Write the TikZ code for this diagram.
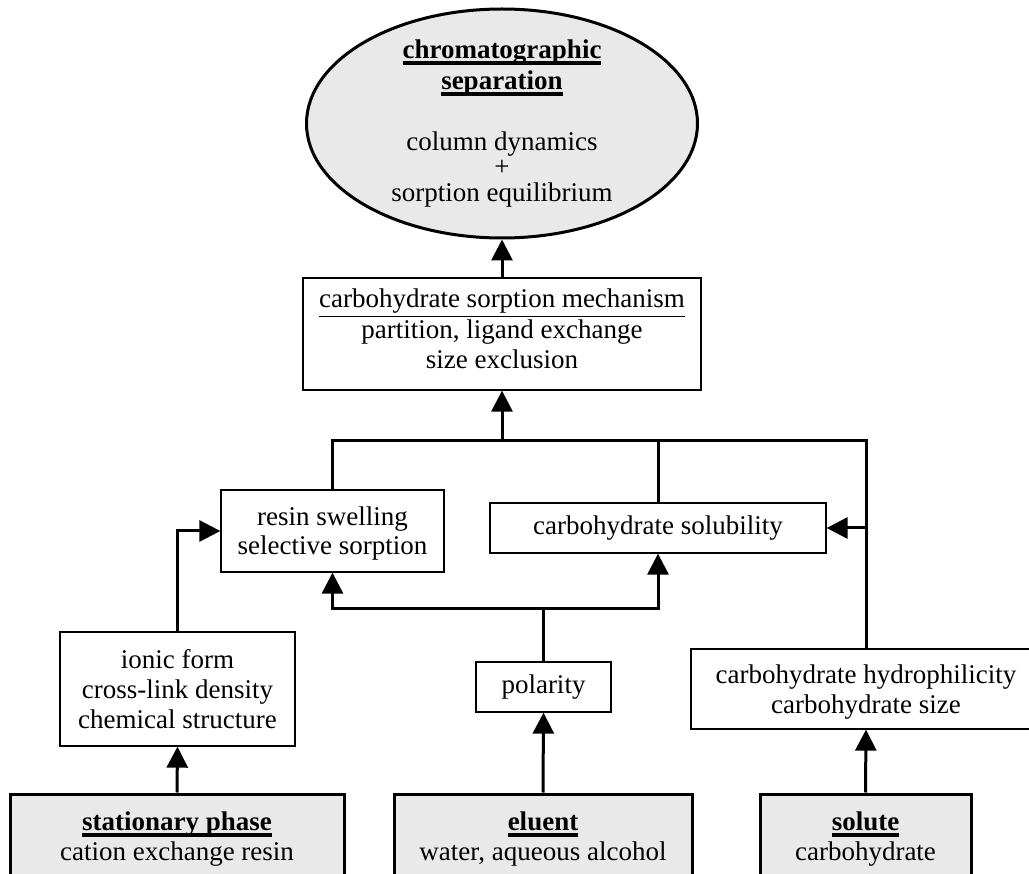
\documentclass[tikz,border=0pt]{standalone}
\usepackage{fontspec}
\setmainfont{Liberation Serif}
\usepackage{tikz}
\usetikzlibrary{arrows.meta,shapes.geometric,positioning}
\definecolor{panelgray}{RGB}{233,233,233}
\newsavebox\ulinebox
\newcommand\ulthin[1]{\sbox\ulinebox{#1}\rlap{\rule[-9.8pt]{\wd\ulinebox}{1.3pt}}\usebox\ulinebox}
\newcommand\ulthick[1]{\sbox\ulinebox{\bfseries #1}\rlap{\rule[-6.5pt]{\wd\ulinebox}{3.5pt}}\usebox\ulinebox}
\tikzset{%
      box/.style = { draw, line width=1.3pt, inner sep=0pt, align=center, fill=white },
  basebox/.style = { box, line width=3pt, fill=panelgray, minimum height=100pt, text depth=16pt },
     goal/.style = { ellipse, draw, line width=3pt, fill=panelgray, inner sep=0pt },
     link/.style = { line width=3pt },
     flow/.style = { link, -{Triangle[width=21pt,length=21pt]} }
}
\begin{document}
\begin{tikzpicture}[x=1pt,y=-1pt,font=\fontsize{27}{30}\selectfont]
\useasboundingbox (0,0) rectangle (1029,874);
\clip (0,0) rectangle (1029,874);
% goal
\node[goal, minimum width=391pt, minimum height=229pt] (goal) at (502,123.5) {};
\node[align=center, inner sep=0pt] (goaltext) at (goal.center)
  {\ulthick{chromatographic}\\[1pt] \ulthick{separation}\\[31pt]
   column dynamics\\[-4.5pt] +\\[-4.5pt] sorption equilibrium};
\node[box, minimum width=398pt, minimum height=112pt, text depth=11pt] (mech) at (502,334)
  {\ulthin{carbohydrate sorption mechanism}\\[1pt] partition, ligand exchange\\ size exclusion};
% middle level
\node[box, minimum width=223pt, minimum height=82pt, text depth=0pt] (resin) at (332.5,531)
  {resin swelling\\[-1pt] selective sorption};
\node[box, minimum width=336pt, minimum height=50pt] (solub) at (658,528) {carbohydrate solubility};
\node[box, minimum width=235pt, minimum height=114pt, text depth=0pt] (ionic) at (177.5,689)
  {ionic form\\ cross-link density\\ chemical structure};
\node[box, minimum width=135pt, minimum height=50pt] (polar) at (543.5,687) {polarity};
\node[box, minimum width=350pt, minimum height=80pt, text depth=0pt] (hydro) at (866,689)
  {carbohydrate hydrophilicity\\ carbohydrate size};
% inputs
\node[basebox, minimum width=334pt] (stat) at (177,844) {\ulthick{stationary phase}\\ cation exchange resin};
\node[basebox, minimum width=298pt] (elu) at (543,844) {\ulthick{eluent}\\ water, aqueous alcohol};
\node[basebox, minimum width=211pt] (sol) at (865.5,844) {\ulthick{solute}\\ carbohydrate};
% connectors
\coordinate (bar) at (502,441);
\coordinate (split) at (543.5,608);
\draw[flow] (mech.north) -- (goal.south);
\draw[link] (resin.north) |- (bar) -| (hydro.north);
\draw[link] (solub.north) -- (solub.north |- bar);
\draw[flow] (bar) -- (mech.south);
\draw[flow] (hydro.north |- solub.east) -- (solub.east);
\draw[flow] (ionic.north) |- (resin.west);
\draw[link] (polar.north) -- (split);
\draw[flow] (split) -| (resin.south);
\draw[flow] (split) -| (solub.south);
\draw[flow] (stat.north) -- (ionic.south);
\draw[flow] (elu.north) -- (polar.south);
\draw[flow] (sol.north) -- (hydro.south);
\end{tikzpicture}
\end{document}
